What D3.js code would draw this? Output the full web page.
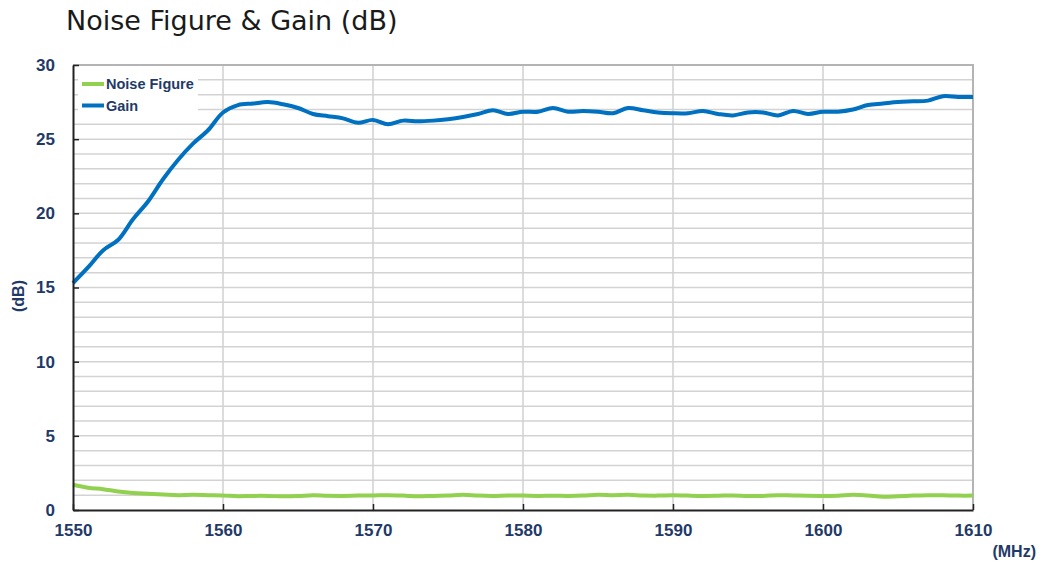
<!DOCTYPE html>
<html>
<head>
<meta charset="utf-8">
<script src="https://cdn.jsdelivr.net/npm/d3@7"></script>
<style>
  body { margin: 0; background: #fff; }
  svg { display: block; }
</style>
</head>
<body>
<svg width="1043" height="563"></svg>
<script>
// frequency (MHz), one reading per MHz
var freqs = d3.range(1550, 1611);

var gain = [
  15.3, 16.35, 17.5, 18.2, 19.6, 20.8, 22.3, 23.6, 24.7, 25.6,
  26.8, 27.3, 27.4, 27.5, 27.35, 27.1, 26.7, 26.55, 26.4, 26.1,
  26.3, 26.0, 26.25, 26.2, 26.25, 26.35, 26.5, 26.7, 26.95, 26.7,
  26.85, 26.85, 27.1, 26.85, 26.9, 26.85, 26.75, 27.1, 26.95, 26.8,
  26.75, 26.75, 26.9, 26.7, 26.6, 26.8, 26.8, 26.6, 26.9, 26.7,
  26.85, 26.85, 27.0, 27.3, 27.4, 27.5, 27.55, 27.6, 27.9, 27.85,
  27.85
];

var noiseFigure = [
  1.7, 1.5, 1.4, 1.25, 1.15, 1.1, 1.05, 1.0, 1.02, 1.0,
  0.98, 0.93, 0.95, 0.95, 0.92, 0.94, 1.0, 0.96, 0.95, 0.97,
  0.98, 1.0, 0.97, 0.92, 0.95, 0.97, 1.02, 0.97, 0.95, 0.98,
  0.97, 0.95, 0.96, 0.95, 0.97, 1.03, 1.0, 1.02, 0.98, 0.97,
  1.0, 0.97, 0.95, 0.96, 0.98, 0.94, 0.95, 1.0, 0.98, 0.96,
  0.95, 0.96, 1.02, 0.97, 0.9, 0.93, 0.97, 1.0, 0.99, 0.97,
  0.97
];

var xTicks = [1550, 1560, 1570, 1580, 1590, 1600, 1610];
var yTicks = [0, 5, 10, 15, 20, 25, 30];
var seriesNames = ["Noise Figure", "Gain"];
var seriesColors = ["#92d050", "#0070c0"];

var svg = d3.select("svg");
var navy = "#1f3a68";

var x = d3.scaleLinear().domain([1550, 1610]).range([73, 973]);
var y = d3.scaleLinear().domain([0, 30]).range([510, 65]);

// title
svg.append("text")
    .attr("x", 66)
    .attr("y", 30)
    .attr("font-family", "DejaVu Sans, Verdana, sans-serif")
    .attr("font-size", 27)
    .attr("fill", "#1a1a1a")
    .text("Noise Figure & Gain (dB)");

// horizontal grid every 1 dB
svg.append("g")
    .selectAll("line")
    .data(d3.range(1, 30))
    .join("line")
    .attr("x1", x(1550)).attr("x2", x(1610))
    .attr("y1", function(d) { return y(d); })
    .attr("y2", function(d) { return y(d); })
    .attr("stroke", "#d3d3d3")
    .attr("stroke-width", 1.5);

// vertical grid
svg.append("g")
    .selectAll("line")
    .data(xTicks.slice(1, -1))
    .join("line")
    .attr("x1", function(d) { return x(d); })
    .attr("x2", function(d) { return x(d); })
    .attr("y1", y(30)).attr("y2", y(0))
    .attr("stroke", "#d0d0d0")
    .attr("stroke-width", 1.5);

// top and right frame
svg.append("path")
    .attr("d", "M" + x(1550) + "," + y(30) + "H" + x(1610) + "V" + y(0))
    .attr("fill", "none")
    .attr("stroke", "#b4b4b4")
    .attr("stroke-width", 2);

// legend background
svg.append("rect")
    .attr("x", 78).attr("y", 70)
    .attr("width", 120).attr("height", 46)
    .attr("fill", "#fff");

// series lines
var line = d3.line()
    .x(function(d) { return x(d[0]); })
    .y(function(d) { return y(d[1]); })
    .curve(d3.curveCatmullRom);

svg.append("path")
    .datum(freqs.map(function(f, i) { return [f, noiseFigure[i]]; }))
    .attr("d", line)
    .attr("fill", "none")
    .attr("stroke", seriesColors[0])
    .attr("stroke-width", 4)
    .attr("stroke-linejoin", "round");

svg.append("path")
    .datum(freqs.map(function(f, i) { return [f, gain[i]]; }))
    .attr("d", line)
    .attr("fill", "none")
    .attr("stroke", seriesColors[1])
    .attr("stroke-width", 4)
    .attr("stroke-linejoin", "round");

// axes
var xAxis = svg.append("g")
    .attr("transform", "translate(0," + y(0) + ")")
    .call(d3.axisBottom(x).tickValues(xTicks).tickFormat(d3.format("d"))
        .tickSizeInner(-6).tickSizeOuter(0).tickPadding(14));

var yAxis = svg.append("g")
    .attr("transform", "translate(" + x(1550) + ",0)")
    .call(d3.axisLeft(y).tickValues(yTicks).tickSizeInner(-6).tickSizeOuter(0).tickPadding(18));

[xAxis, yAxis].forEach(function(g) {
  g.select(".domain").attr("stroke", "#222").attr("stroke-width", 2);
  g.selectAll(".tick line").attr("stroke", "#222").attr("stroke-width", 1.5);
  g.selectAll(".tick text")
      .attr("fill", navy)
      .attr("font-family", "Liberation Sans, Arial, sans-serif")
      .attr("font-weight", "bold")
      .attr("font-size", 17);
});

// axis units
svg.append("text")
    .attr("transform", "translate(24,296) rotate(-90)")
    .attr("text-anchor", "middle")
    .attr("fill", navy)
    .attr("font-family", "Liberation Sans, Arial, sans-serif")
    .attr("font-weight", "bold")
    .attr("font-size", 16)
    .text("(dB)");

svg.append("text")
    .attr("x", 1036)
    .attr("y", 557)
    .attr("text-anchor", "end")
    .attr("fill", navy)
    .attr("font-family", "Liberation Sans, Arial, sans-serif")
    .attr("font-weight", "bold")
    .attr("font-size", 16)
    .text("(MHz)");

// legend
var legend = svg.append("g")
    .selectAll("g")
    .data(seriesNames)
    .join("g")
    .attr("transform", function(d, i) { return "translate(82," + (84 + i * 21.5) + ")"; });

legend.append("line")
    .attr("x1", 0).attr("x2", 22)
    .attr("stroke", function(d, i) { return seriesColors[i]; })
    .attr("stroke-width", 4);

legend.append("text")
    .attr("x", 24)
    .attr("dy", "0.35em")
    .attr("fill", navy)
    .attr("font-family", "Liberation Sans, Arial, sans-serif")
    .attr("font-weight", "bold")
    .attr("font-size", 14.5)
    .text(function(d) { return d; });
</script>
</body>
</html>
